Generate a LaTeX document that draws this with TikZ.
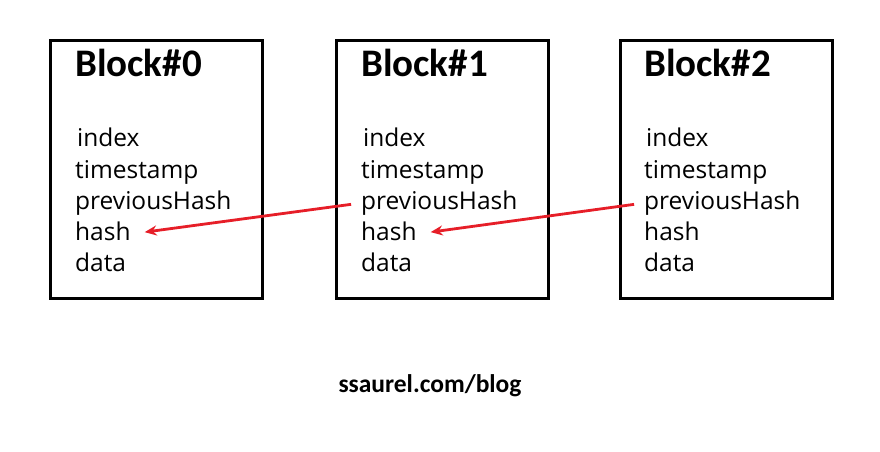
\documentclass[tikz,border=0pt]{standalone}
\usepackage{fontspec}
\setmainfont{Open Sans}
\newfontfamily\titlefont{Carlito}
\usetikzlibrary{arrows.meta}
\definecolor{arrowred}{RGB}{230,30,40}
\begin{document}
\begin{tikzpicture}[x=1pt,y=-1pt,
  blockbox/.style={draw=black,line width=2.6pt,minimum width=212pt,minimum height=258pt,inner sep=0pt},
  titletext/.style={anchor=base west,inner sep=0pt,font=\titlefont\bfseries\fontsize{39}{42}\selectfont},
  fieldtext/.style={anchor=base west,inner sep=0pt,text height=18pt,text depth=6pt,font=\fontsize{24.5}{28}\selectfont},
  footertext/.style={anchor=base,inner sep=0pt,font=\titlefont\bfseries\fontsize{25.5}{28}\selectfont},
  linkarrow/.style={draw=arrowred,line width=2.8pt,-{Stealth[length=12pt,width=10pt]}}
]
\useasboundingbox (0,0) rectangle (880,452);
\foreach \i/\x in {0/48,1/334,2/618}{
  \node[blockbox,anchor=north west] (box\i) at (\x+1,39) {};
}
\foreach \i/\x in {0/75,1/361,2/644}{
  \node[titletext] (title\i) at (\x,76) {Block\#\i};
  \node[fieldtext] (index\i) at (\x+2,146) {index};
  \node[fieldtext] (time\i) at (\x,178) {timestamp};
  \node[fieldtext] (prev\i) at (\x,209) {previousHash};
  \node[fieldtext] (hash\i) at (\x,240) {hash};
  \node[fieldtext] (data\i) at (\x,271) {data};
}
\node[footertext] (footer) at (430,392) {ssaurel.com/blog};
\draw[linkarrow,shorten <=10pt,shorten >=14pt] (prev1.west) -- (hash0.east);
\draw[linkarrow,shorten <=10pt,shorten >=14pt] (prev2.west) -- (hash1.east);
\end{tikzpicture}
\end{document}
